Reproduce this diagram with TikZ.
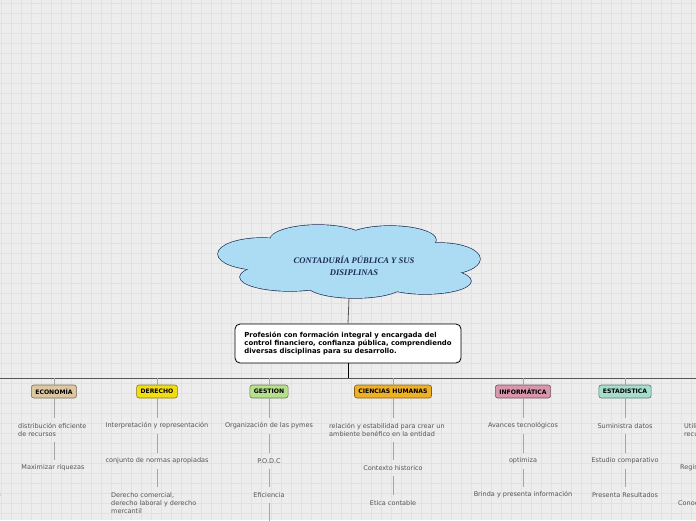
\documentclass[tikz,border=0pt]{standalone}
\usepackage{fontspec}
\setmainfont{DejaVu Sans}
\newfontfamily\titlefont{Liberation Serif}
\usetikzlibrary{positioning}
\definecolor{fondo}{HTML}{EDEDED}
\definecolor{rejilla}{HTML}{E1E1E1}
\definecolor{nubeazul}{HTML}{ACDCF4}
\definecolor{marino}{HTML}{1C2B55}
\definecolor{hojagris}{HTML}{555555}
\definecolor{lineagris}{HTML}{A5A5A5}
\definecolor{econ}{HTML}{DCC7A0}
\definecolor{dere}{HTML}{F2DC14}
\definecolor{gest}{HTML}{B8DF8E}
\definecolor{cien}{HTML}{EEB024}
\definecolor{info}{HTML}{D796AB}
\definecolor{esta}{HTML}{A6DCCB}
\tikzset{
  cat/.style={draw=#1!55!black, fill=#1, rounded corners=2.5, line width=0.6,
    font=\bfseries\fontsize{6.1}{7}\selectfont, minimum height=13, inner xsep=4, inner ysep=0},
  leaf/.style={text=hojagris, font=\fontsize{6.5}{8}\selectfont, inner sep=1, align=left},
  link/.style={draw=lineagris, line width=0.8, shorten >=4},
  link2/.style={link, shorten <=4},
  lobe/.style={line width=1.3, draw=marino},
}

\begin{document}
\begin{tikzpicture}[x=1pt,y=-1pt]
\useasboundingbox (0,0) rectangle (696,520);
\clip (0,0) rectangle (696,520);
\fill[fondo] (0,0) rectangle (696,520);
\foreach \i in {1,11,...,691} \draw[rejilla,line width=0.5] (\i,0) -- (\i,520);
\foreach \j in {3,13,...,513} \draw[rejilla,line width=0.5] (0,\j) -- (696,\j);

% nube
\foreach \c/\rx/\ry in {{(262,254)}/44/16,{(318,240)}/48/15,{(390,240)}/46/14,{(440,259)}/40/16,
  {(425,281)}/46/13,{(355,285)}/48/13,{(290,277)}/50/14}
  \draw[lobe] \c ellipse ({\rx} and {\ry});
\foreach \c/\rx/\ry in {{(262,254)}/44/16,{(318,240)}/48/15,{(390,240)}/46/14,{(440,259)}/40/16,
  {(425,281)}/46/13,{(355,285)}/48/13,{(290,277)}/50/14,{(350,262)}/100/24}
  \fill[nubeazul] \c ellipse ({\rx} and {\ry});
\node[text=marino, font=\titlefont\bfseries\itshape\fontsize{8.6}{12}\selectfont, align=center] (titulo) at (354,266)
  {CONTADURÍA PÚBLICA Y SUS\\DISIPLINAS};
\coordinate (nube) at (349,298);

\node[draw, fill=white, rounded corners=5, line width=0.8, minimum width=226, minimum height=39,
  font=\bfseries\fontsize{6.9}{8.4}\selectfont, align=left, inner xsep=8] (def) at (348,343.5)
  {Profesión con formación integral y encargada del\\control financiero, confianza pública, comprendiendo\\diversas disciplinas para su desarrollo.};
\draw[hojagris, line width=0.8] (nube) -- (def.north);

\coordinate (izq) at (0,378);
\coordinate (der) at (696,378);
\draw[hojagris, line width=0.9] (izq) -- (der);
\draw[black, line width=1] (def.south) -- (def.south |- izq);

% categorias
\node[cat=econ] (eco) at (54,391.5) {ECONOMÍA};
\node[cat=dere] (der1) at (157,391.5) {DERECHO};
\node[cat=gest] (ges) at (269,391.5) {GESTION};
\node[cat=cien] (cie) at (393,391.5) {CIENCIAS HUMANAS};
\node[cat=info] (inf) at (523,391.5) {INFORMÁTICA};
\node[cat=esta] (est) at (625,391.5) {ESTADISTICA};
\foreach \n in {eco,der1,ges,cie,inf,est}
  \draw[lineagris, line width=0.8] (\n.north |- izq) -- (\n.north);

% economia
\node[leaf, anchor=west] (eco1) at (17,430) {distribución eficiente\\de recursos};
\node[leaf] (eco2) at (53,468) {Maximizar riquezas};
\draw[link] (eco.south) -- (eco.south |- eco1.north);
\draw[link2] (eco.south |- eco1.south) -- (eco.south |- eco2.north);
\node[leaf, anchor=east] (izq3) at (2,494) {Análisis de costos};

% derecho
\node[leaf] (der2) at (157,426) {Interpretación y representación};
\node[leaf] (der3) at (157,461) {conjunto de normas apropiadas};
\node[leaf, anchor=west] (der4) at (110,503) {Derecho comercial,\\derecho laboral y derecho\\mercantil};
\draw[link] (der1.south) -- (der2.north);
\draw[link2] (der2.south) -- (der3.north);
\draw[link2] (der3.south) -- (der3.south |- der4.north);

% gestion
\node[leaf] (ges1) at (269,426) {Organización de las pymes};
\node[leaf] (ges2) at (269,461) {P.O.D.C};
\node[leaf] (ges3) at (269,495) {Eficiencia};
\coordinate (ges4) at (269,540);
\draw[link] (ges.south) -- (ges1.north);
\draw[link2] (ges1.south) -- (ges2.north);
\draw[link2] (ges2.south) -- (ges3.north);
\draw[link2] (ges3.south) -- (ges4);

% ciencias humanas
\node[leaf, anchor=west] (cie1) at (328,430) {relación y estabilidad para crear un\\ambiente benéfico en la entidad};
\node[leaf] (cie2) at (393,468) {Contexto historico};
\node[leaf] (cie3) at (393,503) {Etica contable};
\draw[link] (cie.south) -- (cie.south |- cie1.north);
\draw[link2] (cie.south |- cie1.south) -- (cie2.north);
\draw[link2] (cie2.south) -- (cie3.north);

% informatica
\node[leaf] (inf1) at (523,426) {Avances tecnológicos};
\node[leaf] (inf2) at (523,461) {optimiza};
\node[leaf] (inf3) at (523,495) {Brinda y presenta información};
\draw[link] (inf.south) -- (inf1.north);
\draw[link2] (inf1.south) -- (inf2.north);
\draw[link2] (inf2.south) -- (inf3.north);

% estadistica
\node[leaf] (est1) at (625,426) {Suministra datos};
\node[leaf] (est2) at (625,461) {Estudio comparativo};
\node[leaf] (est3) at (625,495) {Presenta Resultados};
\draw[link] (est.south) -- (est1.north);
\draw[link2] (est1.south) -- (est2.north);
\draw[link2] (est2.south) -- (est3.north);

% columna cortada a la derecha
\node[leaf, anchor=west] (otr1) at (683,430) {Utiliza los\\recursos};
\node[leaf, anchor=west] (otr2) at (679,468) {Registros};
\node[leaf, anchor=west] (otr3) at (677,503) {Conocimiento};
\end{tikzpicture}
\end{document}
